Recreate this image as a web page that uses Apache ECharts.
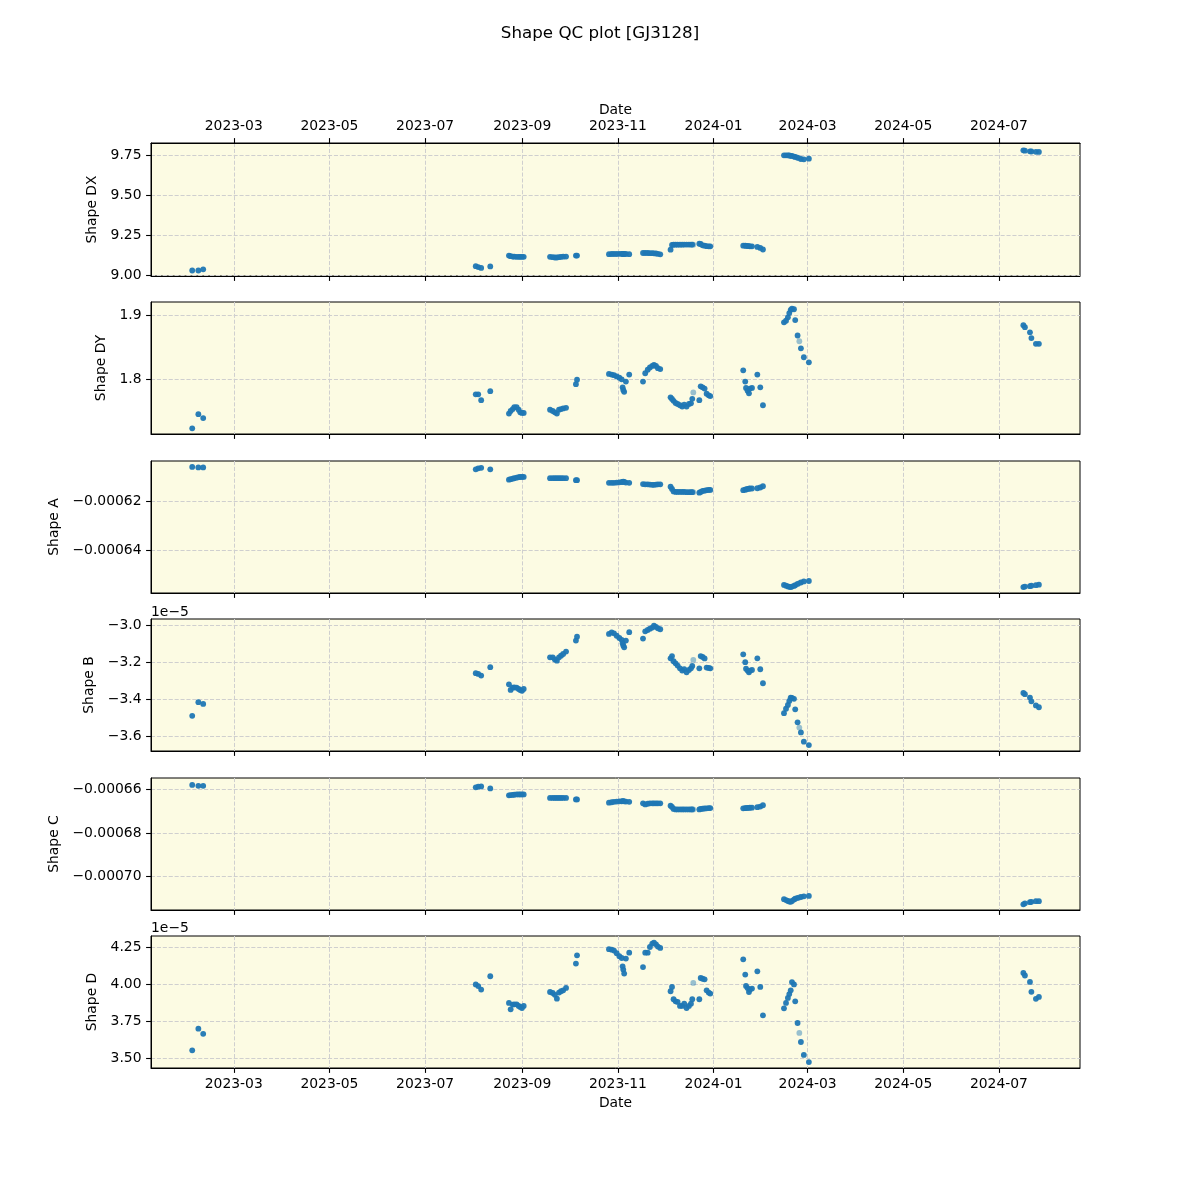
<!DOCTYPE html>
<html><head><meta charset="utf-8">
<script src="https://cdn.jsdelivr.net/npm/echarts@6/dist/echarts.min.js"></script>
<style>html,body{margin:0;padding:0;background:#fff}#c{width:1200px;height:1200px}</style>
</head><body><div id="c"></div>
<script>
// Observation dates (shared by all panels)
const dates = [
"2023-02-02 12:00","2023-02-06 10:00","2023-02-09 12:00",
"2023-08-02 08:00","2023-08-03 22:00","2023-08-05 19:00","2023-08-11 14:00",
"2023-08-23 12:00","2023-08-24 14:00","2023-08-25 22:00","2023-08-26 22:00","2023-08-28 10:00","2023-08-29 17:00","2023-08-30 17:00","2023-08-31 19:00","2023-09-01 22:00",
"2023-09-18 17:00","2023-09-20 10:00","2023-09-21 19:00","2023-09-23 02:00","2023-09-24 10:00","2023-09-25 17:00","2023-09-27 02:00","2023-09-28 22:00","2023-10-05 05:00","2023-10-05 22:00",
"2023-10-26 07:00","2023-10-28 00:00","2023-10-29 12:00","2023-10-31 05:00","2023-11-01 22:00","2023-11-03 10:00","2023-11-04 00:00","2023-11-04 10:00","2023-11-05 00:00","2023-11-06 02:00","2023-11-08 05:00",
"2023-11-17 00:00","2023-11-18 10:00","2023-11-20 00:00","2023-11-21 10:00","2023-11-22 22:00","2023-11-24 00:00","2023-11-25 07:00","2023-11-26 12:00","2023-11-28 00:00",
"2023-12-04 14:00","2023-12-05 12:00","2023-12-06 12:00","2023-12-07 19:00","2023-12-09 02:00","2023-12-10 14:00","2023-12-12 00:00","2023-12-13 07:00","2023-12-14 19:00","2023-12-16 07:00","2023-12-17 14:00","2023-12-18 10:00","2023-12-19 02:00","2023-12-22 22:00","2023-12-23 19:00","2023-12-25 00:00","2023-12-26 07:00","2023-12-27 14:00","2023-12-28 22:00","2023-12-29 22:00",
"2024-01-19 22:00","2024-01-21 05:00","2024-01-21 17:00","2024-01-22 17:00","2024-01-23 14:00","2024-01-24 05:00","2024-01-25 12:00","2024-01-28 22:00","2024-01-30 19:00","2024-02-01 12:00",
"2024-02-14 22:00","2024-02-16 05:00","2024-02-17 10:00","2024-02-18 07:00","2024-02-19 05:00","2024-02-20 00:00","2024-02-21 07:00","2024-02-22 02:00","2024-02-23 14:00","2024-02-24 17:00","2024-02-25 17:00","2024-02-27 14:00","2024-03-01 19:00",
"2024-07-16 14:00","2024-07-17 14:00","2024-07-20 19:00","2024-07-21 17:00","2024-07-24 14:00","2024-07-26 12:00"
];
// points drawn faint in the reference
const faintDates = ["2023-12-19 02:00","2024-02-24 17:00"];

const shapeDX = [
9.029,9.029,9.036,
9.056,9.050,9.045,9.054,
9.122,9.118,9.116,9.115,9.114,9.114,9.114,9.114,9.114,
9.114,9.112,9.110,9.110,9.112,9.114,9.115,9.116,9.122,9.122,
9.131,9.132,9.132,9.132,9.133,9.133,9.132,9.132,9.132,9.132,9.131,
9.138,9.138,9.138,9.137,9.137,9.136,9.135,9.133,9.130,
9.159,9.188,9.190,9.190,9.190,9.190,9.190,9.191,9.191,9.191,9.191,9.191,9.190,9.196,9.195,9.186,9.184,9.181,9.180,9.180,
9.184,9.184,9.183,9.182,9.181,9.180,9.180,9.176,9.170,9.160,
9.748,9.748,9.748,9.747,9.745,9.744,9.740,9.738,9.733,9.729,9.725,9.723,9.727,
9.779,9.777,9.773,9.772,9.770,9.769
];
const shapeDY = [
1.723,1.745,1.739,
1.776,1.776,1.767,1.781,
1.746,1.750,1.753,1.756,1.756,1.752,1.748,1.747,1.747,
1.752,1.750,1.748,1.746,1.752,1.753,1.754,1.755,1.792,1.799,
1.808,1.807,1.806,1.804,1.802,1.7995,1.787,1.783,1.780,1.796,1.807,
1.796,1.809,1.8145,1.818,1.8205,1.822,1.8205,1.817,1.8155,
1.7714,1.7688,1.766,1.7625,1.761,1.759,1.757,1.760,1.757,1.761,1.762,1.769,1.779,1.767,1.7886,1.787,1.785,1.777,1.7745,1.7734,
1.8136,1.796,1.786,1.7817,1.7777,1.785,1.786,1.807,1.787,1.759,
1.8886,1.891,1.8964,1.903,1.908,1.910,1.909,1.892,1.868,1.859,1.848,1.834,1.826,
1.884,1.881,1.873,1.864,1.855,1.855
];
const shapeA = [
-0.000606,-0.0006062,-0.0006062,
-0.000607,-0.0006066,-0.0006064,-0.000607,
-0.0006112,-0.000611,-0.0006108,-0.0006106,-0.0006104,-0.0006102,-0.0006101,-0.0006101,-0.0006101,
-0.0006106,-0.0006106,-0.0006106,-0.0006106,-0.0006106,-0.0006106,-0.0006106,-0.0006106,-0.0006114,-0.0006114,
-0.0006125,-0.0006125,-0.0006125,-0.0006124,-0.0006123,-0.0006122,-0.0006121,-0.000612,-0.0006121,-0.0006124,-0.0006125,
-0.000613,-0.0006131,-0.0006131,-0.0006132,-0.0006133,-0.0006133,-0.0006132,-0.0006131,-0.0006131,
-0.0006141,-0.000615,-0.000616,-0.0006162,-0.0006162,-0.0006162,-0.0006162,-0.0006162,-0.0006163,-0.0006163,-0.0006163,-0.0006163,-0.0006163,-0.0006165,-0.0006162,-0.0006158,-0.0006157,-0.0006155,-0.0006154,-0.0006154,
-0.0006155,-0.0006153,-0.0006152,-0.000615,-0.0006149,-0.0006148,-0.0006148,-0.0006147,-0.0006144,-0.0006139,
-0.0006541,-0.0006544,-0.0006547,-0.0006549,-0.000655,-0.0006548,-0.0006545,-0.0006542,-0.0006537,-0.0006534,-0.0006531,-0.0006527,-0.0006525,
-0.000655,-0.0006548,-0.0006546,-0.0006544,-0.0006542,-0.000654
];
// Shape B in units of 1e-5
const shapeB = [
-3.488,-3.415,-3.424,
-3.259,-3.263,-3.272,-3.227,
-3.319,-3.349,-3.337,-3.335,-3.337,-3.344,-3.350,-3.354,-3.344,
-3.174,-3.174,-3.185,-3.192,-3.174,-3.165,-3.156,-3.143,-3.084,-3.063,
-3.048,-3.040,-3.045,-3.058,-3.070,-3.080,-3.098,-3.110,-3.120,-3.084,-3.039,
-3.073,-3.034,-3.027,-3.020,-3.014,-3.004,-3.010,-3.018,-3.023,
-3.179,-3.167,-3.195,-3.206,-3.218,-3.233,-3.245,-3.238,-3.254,-3.242,-3.233,-3.220,-3.188,-3.233,-3.167,-3.172,-3.180,-3.229,-3.231,-3.233,
-3.158,-3.200,-3.235,-3.245,-3.254,-3.245,-3.242,-3.179,-3.238,-3.313,
-3.474,-3.450,-3.430,-3.408,-3.390,-3.392,-3.397,-3.453,-3.523,-3.551,-3.577,-3.627,-3.645,
-3.365,-3.372,-3.390,-3.410,-3.432,-3.442
];
const shapeC = [
-0.0006578,-0.0006582,-0.0006582,
-0.0006589,-0.0006586,-0.0006585,-0.0006594,
-0.0006626,-0.0006625,-0.0006624,-0.0006623,-0.0006622,-0.0006622,-0.0006622,-0.0006622,-0.0006622,
-0.0006638,-0.0006638,-0.0006638,-0.0006638,-0.0006638,-0.0006638,-0.0006638,-0.0006638,-0.0006645,-0.0006645,
-0.000666,-0.0006658,-0.0006656,-0.0006655,-0.0006654,-0.0006654,-0.0006653,-0.0006653,-0.0006654,-0.0006655,-0.0006656,
-0.0006663,-0.0006668,-0.0006665,-0.0006663,-0.0006663,-0.0006663,-0.0006663,-0.0006663,-0.0006663,
-0.0006674,-0.000668,-0.0006689,-0.0006691,-0.0006691,-0.0006691,-0.0006691,-0.0006691,-0.0006691,-0.0006691,-0.0006691,-0.0006691,-0.0006691,-0.0006691,-0.0006689,-0.0006688,-0.0006687,-0.0006686,-0.0006685,-0.0006685,
-0.0006686,-0.0006685,-0.0006685,-0.0006684,-0.0006684,-0.0006683,-0.0006683,-0.0006681,-0.0006678,-0.0006672,
-0.0007106,-0.000711,-0.0007114,-0.0007117,-0.0007118,-0.0007114,-0.0007108,-0.0007104,-0.00071,-0.0007098,-0.0007096,-0.0007093,-0.0007091,
-0.000713,-0.0007125,-0.000712,-0.0007118,-0.0007115,-0.0007115
];
// Shape D in units of 1e-5
const shapeD = [
3.556,3.702,3.667,
4.000,3.989,3.965,4.055,
3.875,3.832,3.864,3.866,3.866,3.855,3.848,3.841,3.855,
3.949,3.942,3.930,3.904,3.945,3.954,3.960,3.976,4.140,4.196,
4.237,4.234,4.228,4.210,4.190,4.178,4.122,4.100,4.073,4.174,4.214,
4.117,4.214,4.214,4.252,4.275,4.281,4.270,4.255,4.246,
3.954,3.983,3.900,3.886,3.882,3.855,3.855,3.870,3.841,3.855,3.870,3.900,4.010,3.900,4.043,4.038,4.034,3.960,3.945,3.938,
4.169,4.066,3.990,3.975,3.949,3.965,3.972,4.088,3.983,3.792,
3.839,3.875,3.909,3.935,3.960,4.016,4.000,3.886,3.740,3.673,3.612,3.525,3.477,
4.077,4.060,4.017,3.950,3.903,3.916
];

const xTickLabels = ["2023-03","2023-05","2023-07","2023-09","2023-11","2024-01","2024-03","2024-05","2024-07"];
const dxTicks = [9.00, 9.25, 9.50, 9.75];
const dyTicks = [1.8, 1.9];
const aTicks = [-0.00064, -0.00062];
const bTicks = [-3.6, -3.4, -3.2, -3.0];
const cTicks = [-0.00070, -0.00068, -0.00066];
const dTicks = [3.50, 3.75, 4.00, 4.25];

const FONT = 'DejaVu Sans';
const FS = 13.9;
const minus = s => s.replace('-', '\u2212');
const toTime = s => new Date(s.replace(' ', 'T') + ':00').getTime();
const xTickValues = xTickLabels.map(s => toTime(s + '-01 00:00'));
const xMin = toTime('2023-01-07 05:00');
const xMax = toTime('2024-08-21 17:00');
const fmtX = v => { const d = new Date(v); return d.getFullYear() + '-' + String(d.getMonth()+1).padStart(2,'0'); };

const panels = [
  {name:'Shape DX', vals:shapeDX, min:8.9945, max:9.825, ticks:dxTicks, fmt:v=>minus(v.toFixed(2)), gap:44, top:143, h:133},
  {name:'Shape DY', vals:shapeDY, min:1.7141, max:1.9203, ticks:dyTicks, fmt:v=>minus(v.toFixed(1)), gap:36, top:302, h:132},
  {name:'Shape A', vals:shapeA, min:-0.0006574, max:-0.0006036, ticks:aTicks, fmt:v=>minus(v.toFixed(5)), gap:82, top:461, h:132},
  {name:'Shape B', vals:shapeB, min:-3.677, max:-2.968, ticks:bTicks, fmt:v=>minus(v.toFixed(1)), gap:47, top:619, h:132},
  {name:'Shape C', vals:shapeC, min:-0.0007156, max:-0.0006546, ticks:cTicks, fmt:v=>minus(v.toFixed(5)), gap:82, top:778, h:132},
  {name:'Shape D', vals:shapeD, min:3.437, max:4.326, ticks:dTicks, fmt:v=>minus(v.toFixed(2)), gap:44, top:936, h:132}
];

const gridLine = {show:true, lineStyle:{color:'#cfcfcf', type:[4.1,1.8], width:1}};
const tickStyle = {color:'#000', width:1.1};

const grids = panels.map(p => ({left:151, width:929, top:p.top, height:p.h, show:true,
  backgroundColor:'#fcfbe3', borderColor:'#000', borderWidth:1, containLabel:false}));

const xAxes = panels.map((p,i) => ({
  type:'value', gridIndex:i, min:xMin, max:xMax, position:'bottom',
  axisLine:{show:true, onZero:false, lineStyle:{color:'#000', width:1}},
  axisTick:{show:true, length:4.9, lineStyle:tickStyle, customValues:xTickValues},
  axisLabel:{show:i===5, customValues:xTickValues, formatter:fmtX, fontFamily:FONT, fontSize:FS, color:'#000', margin:9.5},
  splitLine:gridLine,
  name: i===5 ? 'Date' : '', nameLocation:'middle', nameGap:28,
  nameTextStyle:{fontFamily:FONT, fontSize:FS, color:'#000'}
}));
xAxes.push({
  type:'value', gridIndex:0, min:xMin, max:xMax, position:'top',
  axisLine:{show:true, onZero:false, lineStyle:{color:'#000', width:1}},
  axisTick:{show:true, length:4.9, lineStyle:tickStyle, customValues:xTickValues},
  axisLabel:{show:true, customValues:xTickValues, formatter:fmtX, fontFamily:FONT, fontSize:FS, color:'#000', margin:9.5},
  splitLine:{show:false},
  name:'Date', nameLocation:'middle', nameGap:26,
  nameTextStyle:{fontFamily:FONT, fontSize:FS, color:'#000'}
});

const yAxes = panels.map((p,i) => ({
  type:'value', gridIndex:i, min:p.min, max:p.max,
  name:p.name, nameLocation:'middle', nameGap:p.gap,
  nameTextStyle:{fontFamily:FONT, fontSize:FS, color:'#000'},
  axisLine:{show:true, onZero:false, lineStyle:{color:'#000', width:1}},
  axisTick:{show:true, length:4.9, lineStyle:tickStyle, customValues:p.ticks},
  axisLabel:{customValues:p.ticks, formatter:p.fmt, fontFamily:FONT, fontSize:FS, color:'#000', margin:9.5},
  splitLine:gridLine
}));

const series = panels.map((p,i) => ({
  type:'scatter', xAxisIndex:i, yAxisIndex:i, symbol:'circle', symbolSize:5.8,
  itemStyle:{color:'#1f77b4', opacity:0.95},
  data: dates.map((d,k) => faintDates.includes(d)
      ? {value:[toTime(d), p.vals[k]], itemStyle:{opacity:0.45}}
      : {value:[toTime(d), p.vals[k]]}),
  animation:false
}));

const chart = echarts.init(document.getElementById('c'), null, {renderer:'canvas'});
chart.setOption({
  animation:false,
  backgroundColor:'#ffffff',
  title:{text:'Shape QC plot [GJ3128]', left:'center', top:25, padding:0,
    textStyle:{fontFamily:FONT, fontSize:16.7, fontWeight:'normal', color:'#000'}},
  grid:grids, xAxis:xAxes, yAxis:yAxes, series:series,
  graphic:[
    {type:'text', left:151, top:605, style:{text:'1e\u22125', fontFamily:FONT, fontSize:FS, fill:'#000'}},
    {type:'text', left:151, top:921, style:{text:'1e\u22125', fontFamily:FONT, fontSize:FS, fill:'#000'}}
  ]
});
</script></body></html>
